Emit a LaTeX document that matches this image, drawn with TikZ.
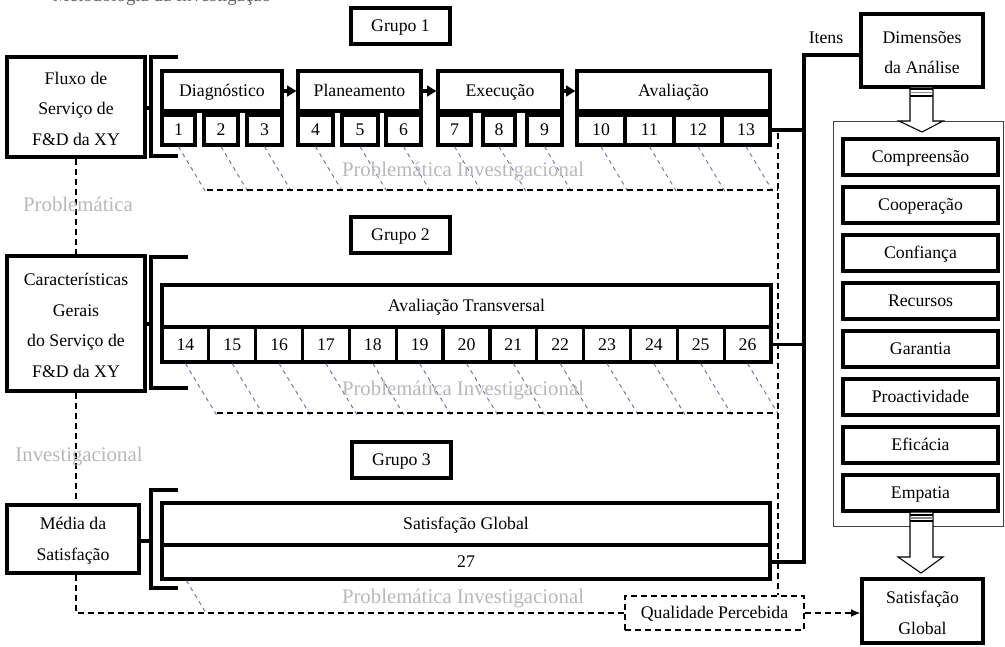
\documentclass[tikz,border=0pt]{standalone}
\usepackage{fontspec}
\setmainfont{Liberation Serif}
\usetikzlibrary{arrows.meta}
\definecolor{diagc}{HTML}{6F6FAA}
\definecolor{pgray}{HTML}{B8B8B8}
\newcommand\fs{\fontsize{13.3}{23}\selectfont}
\newcommand\fgr{\fontsize{15.6}{18}\selectfont}
\newcommand\myst{\rule[-0.24em]{0pt}{1.14em}}
% box from corner (x1,y1) to (x2,y2) in pixel units
\newcommand\pxbox[7][bx]{\node[#1, minimum width={(#5-#3)*0.75pt}, minimum height={(#6-#4)*0.75pt}] (#2) at ({(#3+#5)/2},{(#4+#6)/2}) {\myst#7};}
\begin{document}
\begin{tikzpicture}[x=0.75pt,y=-0.75pt,
  bx/.style={draw, line width=2.4pt, inner sep=0pt, font=\fs, align=center},
  qbox/.style={draw, line width=1.1pt, dash pattern=on 4.5pt off 3pt, inner sep=0pt, font=\fs, align=center},
  grpbox/.style={draw=black!75, line width=0.6pt, inner sep=0pt},
  dsh/.style={line width=1.1pt, dash pattern=on 4.5pt off 3pt},
  dgl/.style={draw=diagc, line width=0.7pt, dash pattern=on 3pt off 3pt},
  gtxt/.style={text=pgray, font=\fgr, inner sep=0pt},
  conn/.style={line width=2.4pt},
  blk/.style={draw, line width=0.8pt, fill=white},
  flowarrow/.style={line width=2.4pt, -{Triangle[length=7pt,width=8pt]}}]
\useasboundingbox (0,0) rectangle (1005,646);

% title (cut off at top, as in the reference)
\node[anchor=base, text=black!60, font=\fontsize{14.1}{16}\selectfont, inner sep=0pt] (title) at (162,2) {Metodologia da Investigação};

% ---------------- Group 1 ----------------
\pxbox{fluxo}{7}{57}{145}{157}{Fluxo de\\Serviço de\\F\&D da XY}
\pxbox{g1}{351}{8}{450}{44}{Grupo 1}
\pxbox{diag}{162}{71}{282}{111}{Diagnóstico}
\pxbox{plan}{298}{71}{421}{111}{Planeamento}
\pxbox{exec}{438}{71}{562}{111}{Execução}
\pxbox{aval}{577}{71}{770}{111}{Avaliação}
\draw[flowarrow] (diag) -- (plan);
\draw[flowarrow] (plan) -- (exec);
\draw[flowarrow] (exec) -- (aval);
\foreach \a/\b/\n in {162/195/1, 204/238/2, 247/282/3, 298/333/4, 342/378/5, 386/421/6,
  438/471/7, 483/515/8, 527/562/9, 577/625/10, 625/674/11, 674/722/12, 722/770/13}
  {\pxbox{b\n}{\a}{115}{\b}{145}{\n}}
\foreach \n in {1,...,13} \draw[dgl] (b\n.south) -- ++(27,45);
\node[gtxt] (p1) at (463,172) {Problemática Investigacional};
\coordinate (h1a) at (207,190);
\coordinate (vtop) at (778,133);
\draw[dsh] (h1a) -- (h1a -| vtop);

% bracket 1
\draw[conn] (178,57) -- (151,57) -- (151,156) -- (178,156);
\coordinate (br1) at (151,108);
\draw[conn] (fluxo.east |- br1) -- (br1);

% ---------------- Group 2 ----------------
\pxbox{carac}{7}{256}{145}{391}{Características\\Gerais\\do Serviço de\\F\&D da XY}
\pxbox{g2}{351}{217}{450}{253}{Grupo 2}
\pxbox{transv}{162}{285}{771}{327}{Avaliação Transversal}
\foreach \i in {0,...,12} {
  \pgfmathsetmacro\xa{162+\i*46.846}
  \pgfmathsetmacro\xb{162+(\i+1)*46.846}
  \pgfmathtruncatemacro\n{14+\i}
  \pxbox{c\n}{\xa}{327}{\xb}{362}{\n}
  \draw[dgl] (c\n.south) -- ++(31,51);
}
\node[gtxt] (p2) at (463,391) {Problemática Investigacional};
\coordinate (h2a) at (217,413);
\draw[dsh] (h2a) -- (h2a -| vtop);

\draw[conn] (188,257) -- (151,257) -- (151,388) -- (188,388);
\coordinate (br2) at (151,324);
\draw[conn] (carac.east |- br2) -- (br2);

% ---------------- Group 3 ----------------
\pxbox{media}{7}{505}{139}{573}{Média da\\Satisfação}
\pxbox{g3}{352}{442}{451}{478}{Grupo 3}
\pxbox{sg}{162}{503}{770}{545}{Satisfação Global}
\pxbox{b27}{162}{545}{770}{579}{27}
\draw[dgl] (b27.south west) ++(26,0) -- ++(20,33);
\node[gtxt] (p3) at (463,599) {Problemática Investigacional};

\draw[conn] (178,490) -- (151,490) -- (151,588) -- (178,588);
\coordinate (br3) at (151,541);
\draw[conn] (media.east |- br3) -- (br3);

% ---------------- right side ----------------
\pxbox{dim}{861}{14}{983}{87}{Dimensões\\da Análise}
\node[font=\fs, inner sep=0pt] (itens) at (826,38) {Itens};
\pxbox[grpbox]{dimgrp}{833}{121}{1003}{526}{}
\foreach \t [count=\k from 0] in {Compreensão, Cooperação, Confiança, Recursos, Garantia, Proactividade, Eficácia, Empatia} {
  \pgfmathsetmacro\ya{139+48*\k}
  \pgfmathsetmacro\yb{175+48*\k}
  \pxbox{d\k}{843}{\ya}{998}{\yb}{\t}
}
\pxbox{satg}{862}{579}{983}{643}{Satisfação\\Global}
\pxbox[qbox]{qual}{625}{596}{804}{630}{Qualidade Percebida}

% block arrows
\draw[blk] (910,87) -- (910,121) -- (899,121) -- (922,132) -- (943,121) -- (933,121) -- (933,87) -- cycle;
\fill[black] (910,88) rectangle (933,90);
\fill[black!45] (910,91.5) rectangle (933,93);
\fill[black] (910,94.5) rectangle (933,96.5);
\draw[blk] (910,512) -- (910,557) -- (898,557) -- (921,573) -- (943,557) -- (933,557) -- (933,512) -- cycle;
\fill[black] (910,513.5) rectangle (933,515.5);
\fill[black!45] (910,517) rectangle (933,518.5);
\fill[black] (910,520) rectangle (933,522);

% solid item connectors
\coordinate (rt) at (804,55);
\draw[conn] (dim.west |- rt) -- (rt) -- (rt |- b27.east) -- (b27.east);
\draw[conn] (b13.east) -- (b13.east -| rt);
\draw[conn] (c26.east) -- (c26.east -| rt);

% dashed right vertical
\draw[dsh] (vtop) -- (vtop |- qual.north);

% left dashed path
\draw[dsh] (fluxo.south) -- (carac.north);
\draw[dsh] (carac.south) -- (carac.south |- media.north);
\draw[dsh] (carac.south |- media.south) |- (qual.west);
\draw[dsh, -{Latex[length=7pt,width=6pt]}] (qual.east) -- (qual.east -| satg.west);

\node[gtxt] (pa) at (78,204) {Problemática};
\node[gtxt] (pb) at (79,457) {Investigacional};
\end{tikzpicture}
\end{document}
